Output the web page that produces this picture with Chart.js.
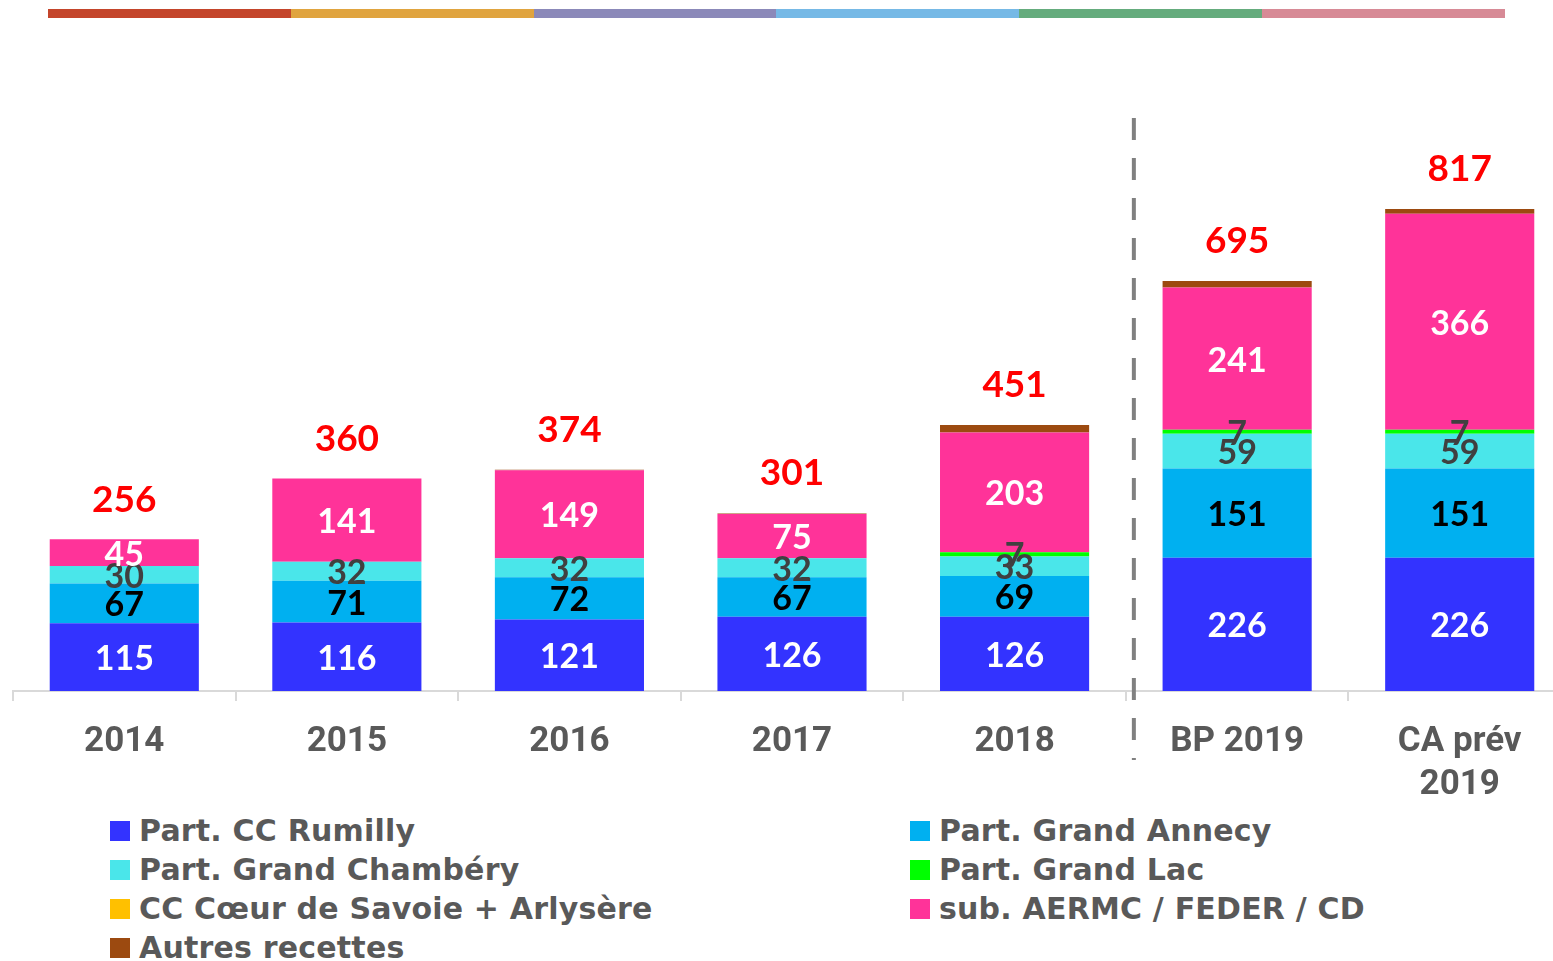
<!DOCTYPE html>
<html>
<head>
<meta charset="utf-8">
<script src="https://cdn.jsdelivr.net/npm/chart.js@4.4.1/dist/chart.umd.min.js"></script>
<style>
  html, body { margin: 0; padding: 0; background: #fff; overflow: hidden; }
  body { width: 1553px; height: 961px; position: relative; }
  #strip { position: absolute; left: 48px; top: 9px; width: 1457px; height: 9px; display: flex; }
  #strip div { flex: 1; }
  #wrap { position: absolute; left: 0; top: 0; width: 1571px; height: 810px; }
  #legend { position: absolute; left: 0; top: 811px; width: 1553px; font-family: "DejaVu Sans", sans-serif; font-size: 30px; font-weight: bold; letter-spacing: 0.2px; color: #595959; }
  .item { position: absolute; height: 39px; line-height: 39px; white-space: nowrap; }
  .item span.box { position: absolute; left: 0; top: 10px; width: 20px; height: 20px; }
  .item span.txt { position: absolute; left: 29px; top: 0; }
</style>
</head>
<body>
<div id="strip"></div>
<div id="wrap"><canvas id="chart"></canvas></div>
<div id="legend"></div>
<script>
// categories and values (k€)
const labels = ['2014', '2015', '2016', '2017', '2018', 'BP 2019', ['CA prév', '2019']];
const rumilly   = [115, 116, 121, 126, 126, 226, 226];
const annecy    = [67, 71, 72, 67, 69, 151, 151];
const chambery  = [30, 32, 32, 32, 33, 59, 59];
const grandLac  = [0, 0, 0, 0, 7, 7, 7];
const coeur     = [0, 0, 0, 0, 0, 0, 0];
const subAermc  = [45, 141, 149, 75, 203, 241, 366];
const autres    = [0, 0, 1, 1, 13, 11, 8];
const totals    = [256, 360, 374, 301, 451, 695, 817];

const stripColors = ['#c4452b', '#e0a43f', '#8b89b9', '#76b9e6', '#65ac7d', '#d78a96'];
stripColors.forEach(c => {
  const d = document.createElement('div');
  d.style.background = c;
  document.getElementById('strip').appendChild(d);
});

const series = [
  { label: 'Part. CC Rumilly', data: rumilly, color: '#3333ff', text: '#ffffff' },
  { label: 'Part. Grand Annecy', data: annecy, color: '#00b0f0', text: '#000000' },
  { label: 'Part. Grand Chambéry', data: chambery, color: '#4ae6ea', text: '#404040' },
  { label: 'Part. Grand Lac', data: grandLac, color: '#00ff00', text: '#404040' },
  { label: 'CC Cœur de Savoie + Arlysère', data: coeur, color: '#ffc000', text: '#404040' },
  { label: 'sub. AERMC / FEDER / CD', data: subAermc, color: '#ff3399', text: '#ffffff' },
  { label: 'Autres recettes', data: autres, color: '#9c4a10', text: null }
];

// legend, two columns
const leg = document.getElementById('legend');
series.forEach((s, i) => {
  const el = document.createElement('div');
  el.className = 'item';
  el.style.left = (i % 2 === 0 ? 110 : 910) + 'px';
  el.style.top = (Math.floor(i / 2) * 39) + 'px';
  el.innerHTML = '<span class="box" style="background:' + s.color + '"></span><span class="txt">' + s.label + '</span>';
  leg.appendChild(el);
});

const labelPlugin = {
  id: 'segLabels',
  afterDatasetsDraw(chart) {
    const ctx = chart.ctx;
    ctx.save();
    ctx.textAlign = 'center';
    ctx.textBaseline = 'middle';
    ctx.font = 'bold 34px Lato, sans-serif';
    chart.data.datasets.forEach((ds, di) => {
      const s = series[di];
      if (!s.text) return;
      const meta = chart.getDatasetMeta(di);
      meta.data.forEach((bar, i) => {
        if (!ds.data[i]) return;
        ctx.fillStyle = s.text;
        ctx.fillText(String(ds.data[i]), bar.x, (bar.y + bar.base) / 2 + 2);
      });
    });
    // totals in red
    const yScale = chart.scales.y;
    const xScale = chart.scales.x;
    ctx.fillStyle = '#ff0000';
    ctx.font = 'bold 37px Lato, sans-serif';
    ctx.textBaseline = 'alphabetic';
    totals.forEach((t, i) => {
      const top = yScale.getPixelForValue(t);
      ctx.fillText(String(t), xScale.getPixelForValue(i), top - 28);
    });
    // dashed separator between 2018 and BP 2019
    const sepX = (xScale.getPixelForValue(4) + xScale.getPixelForValue(5)) / 2 + 8;
    ctx.strokeStyle = '#808080';
    ctx.lineWidth = 4;
    ctx.setLineDash([22, 18]);
    ctx.beginPath();
    ctx.moveTo(sepX, 118);
    ctx.lineTo(sepX, 760);
    ctx.stroke();
    ctx.restore();
  }
};

new Chart(document.getElementById('chart'), {
  type: 'bar',
  data: {
    labels: labels,
    datasets: series.map(s => ({
      label: s.label,
      data: s.data,
      backgroundColor: s.color,
      borderWidth: 0,
      barPercentage: 0.67,
      categoryPercentage: 1
    }))
  },
  options: {
    responsive: true,
    maintainAspectRatio: false,
    animation: false,
    layout: { padding: { top: 101, left: 13, right: 0, bottom: 0 } },
    plugins: { legend: { display: false }, tooltip: { enabled: false } },
    scales: {
      x: {
        stacked: true,
        afterFit: s => { s.height = 119; },
        border: { color: '#d9d9d9', width: 2 },
        grid: { offset: true, drawOnChartArea: false, color: '#d9d9d9', lineWidth: 2, tickLength: 10 },
        ticks: {
          color: '#595959',
          padding: 20,
          font: { family: "Roboto, sans-serif", size: 35, weight: 'bold', lineHeight: 1.23 }
        }
      },
      y: { stacked: true, display: false, min: 0, max: 1000 }
    }
  },
  plugins: [labelPlugin]
});
</script>
</body>
</html>
